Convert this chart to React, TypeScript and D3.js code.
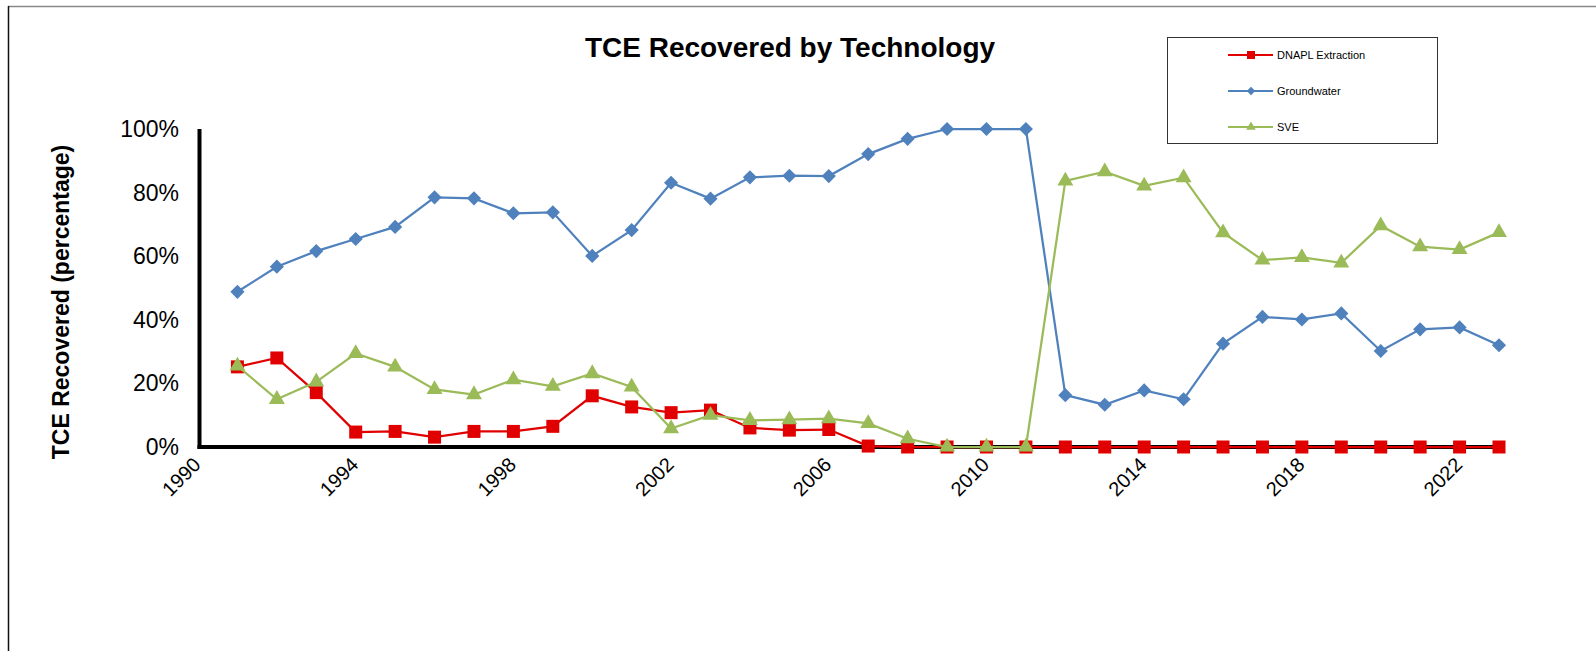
import * as d3 from 'd3';
import { useEffect, useRef } from 'react';

const width = 1596;
const height = 651;

const years = [
  1991, 1992, 1993, 1994, 1995, 1996, 1997, 1998, 1999, 2000, 2001, 2002, 2003,
  2004, 2005, 2006, 2007, 2008, 2009, 2010, 2011, 2012, 2013, 2014, 2015, 2016,
  2017, 2018, 2019, 2020, 2021, 2022, 2023,
];

const dnapl = [
  25.2, 28.0, 17.1, 4.7, 4.9, 3.1, 4.9, 4.9, 6.5, 16.1, 12.6, 10.8, 11.6, 6.0,
  5.3, 5.5, 0.3, 0, 0, 0, 0, 0, 0, 0, 0, 0, 0, 0, 0, 0, 0, 0, 0,
];

const groundwater = [
  48.8, 56.7, 61.6, 65.4, 69.2, 78.5, 78.2, 73.5, 73.8, 60.1, 68.2, 83.1, 78.1,
  84.8, 85.3, 85.2, 92.1, 96.9, 100, 100, 100, 16.3, 13.3, 17.8, 15.0, 32.5,
  40.9, 40.1, 42.0, 30.2, 37.0, 37.6, 32.0,
];

const sve = [
  25.5, 15.0, 20.5, 29.4, 25.2, 18.1, 16.5, 21.2, 19.1, 23.1, 18.9, 5.8, 10.0,
  8.4, 8.6, 8.9, 7.4, 2.6, 0, 0, 0, 83.7, 86.6, 82.1, 84.7, 67.4, 58.8, 59.6,
  57.9, 69.6, 63.0, 62.1, 67.5,
];

const xTicks = [1990, 1994, 1998, 2002, 2006, 2010, 2014, 2018, 2022];
const yTicks = [0, 20, 40, 60, 80, 100];

const series = [
  { name: 'DNAPL Extraction', values: dnapl, color: '#e00000', marker: 'square' },
  { name: 'Groundwater', values: groundwater, color: '#4f81bd', marker: 'diamond' },
  { name: 'SVE', values: sve, color: '#9bbb59', marker: 'triangle' },
];

const font = 'Arial, "Liberation Sans", sans-serif';

export default function App() {
  const ref = useRef<SVGSVGElement>(null);

  useEffect(() => {
    const svg = d3.select(ref.current);
    svg.selectAll('*').remove();

    const x = d3.scaleLinear().domain([1990, 2023]).range([198, 1499]);
    const y = d3.scaleLinear().domain([0, 100]).range([447, 129]);

    // frame
    svg
      .append('line')
      .attr('x1', 8)
      .attr('x2', width)
      .attr('y1', 6.5)
      .attr('y2', 6.5)
      .attr('stroke', '#888')
      .attr('stroke-width', 1.5);
    svg
      .append('line')
      .attr('x1', 8.5)
      .attr('x2', 8.5)
      .attr('y1', 6)
      .attr('y2', height)
      .attr('stroke', '#111')
      .attr('stroke-width', 1.5);

    // title
    svg
      .append('text')
      .attr('x', 790)
      .attr('y', 57)
      .attr('text-anchor', 'middle')
      .attr('font-family', font)
      .attr('font-weight', 'bold')
      .attr('font-size', 28)
      .text('TCE Recovered by Technology');

    // y axis title
    svg
      .append('text')
      .attr('transform', `translate(69,302) rotate(-90)`)
      .attr('text-anchor', 'middle')
      .attr('font-family', font)
      .attr('font-weight', 'bold')
      .attr('font-size', 23)
      .text('TCE Recovered (percentage)');

    // y tick labels
    svg
      .append('g')
      .selectAll('text')
      .data(yTicks)
      .join('text')
      .attr('x', 179)
      .attr('y', (d) => y(d))
      .attr('dy', '0.35em')
      .attr('text-anchor', 'end')
      .attr('font-family', font)
      .attr('font-size', 23)
      .text((d) => `${d}%`);

    // x tick labels
    svg
      .append('g')
      .selectAll('text')
      .data(xTicks)
      .join('text')
      .attr('transform', (d) => `translate(${x(d) - 1},${461}) rotate(-45)`)
      .attr('text-anchor', 'end')
      .attr('dy', '0.35em')
      .attr('font-family', font)
      .attr('font-size', 20)
      .text((d) => d);

    // axes
    svg
      .append('line')
      .attr('x1', x(1990) + 1.5)
      .attr('x2', x(1990) + 1.5)
      .attr('y1', y(100))
      .attr('y2', y(0) + 2)
      .attr('stroke', '#000')
      .attr('stroke-width', 4);
    svg
      .append('line')
      .attr('x1', x(1990) - 0.5)
      .attr('x2', x(2023) + 6)
      .attr('y1', y(0))
      .attr('y2', y(0))
      .attr('stroke', '#000')
      .attr('stroke-width', 4);

    const symbolFor = (m: string, big: boolean) => {
      if (m === 'square') return d3.symbol(d3.symbolSquare, big ? 169 : 64)();
      if (m === 'diamond') return d3.symbol(d3.symbolSquare, big ? 100 : 36)();
      return d3.symbol(d3.symbolTriangle, big ? 110 : 40)();
    };

    const line = d3
      .line<number>()
      .x((_, i) => x(years[i]))
      .y((d) => y(d));

    series.forEach((s) => {
      const g = svg.append('g');
      g.append('path')
        .attr('d', line(s.values))
        .attr('fill', 'none')
        .attr('stroke', s.color)
        .attr('stroke-width', 2.25);
      g.selectAll('path.m')
        .data(s.values)
        .join('path')
        .attr('class', 'm')
        .attr('d', symbolFor(s.marker, true))
        .attr(
          'transform',
          (d, i) =>
            `translate(${x(years[i])},${y(d)})${s.marker === 'diamond' ? ' rotate(45)' : ''}`
        )
        .attr('fill', s.color);
    });

    // legend
    const lg = svg.append('g');
    lg.append('rect')
      .attr('x', 1167.5)
      .attr('y', 37.5)
      .attr('width', 270)
      .attr('height', 106)
      .attr('fill', '#fff')
      .attr('stroke', '#333')
      .attr('stroke-width', 1);
    series.forEach((s, i) => {
      const cy = 55 + i * 36;
      lg.append('line')
        .attr('x1', 1228)
        .attr('x2', 1273)
        .attr('y1', cy)
        .attr('y2', cy)
        .attr('stroke', s.color)
        .attr('stroke-width', 2);
      lg.append('path')
        .attr('d', symbolFor(s.marker, false))
        .attr(
          'transform',
          `translate(1251,${cy})${s.marker === 'diamond' ? ' rotate(45)' : ''}`
        )
        .attr('fill', s.color);
      lg.append('text')
        .attr('x', 1277)
        .attr('y', cy)
        .attr('dy', '0.35em')
        .attr('font-family', font)
        .attr('font-size', 11)
        .text(s.name);
    });
  }, []);

  return (
    <svg
      ref={ref}
      width={width}
      height={height}
      style={{ position: 'absolute', left: 0, top: 0, background: '#fff' }}
    />
  );
}
